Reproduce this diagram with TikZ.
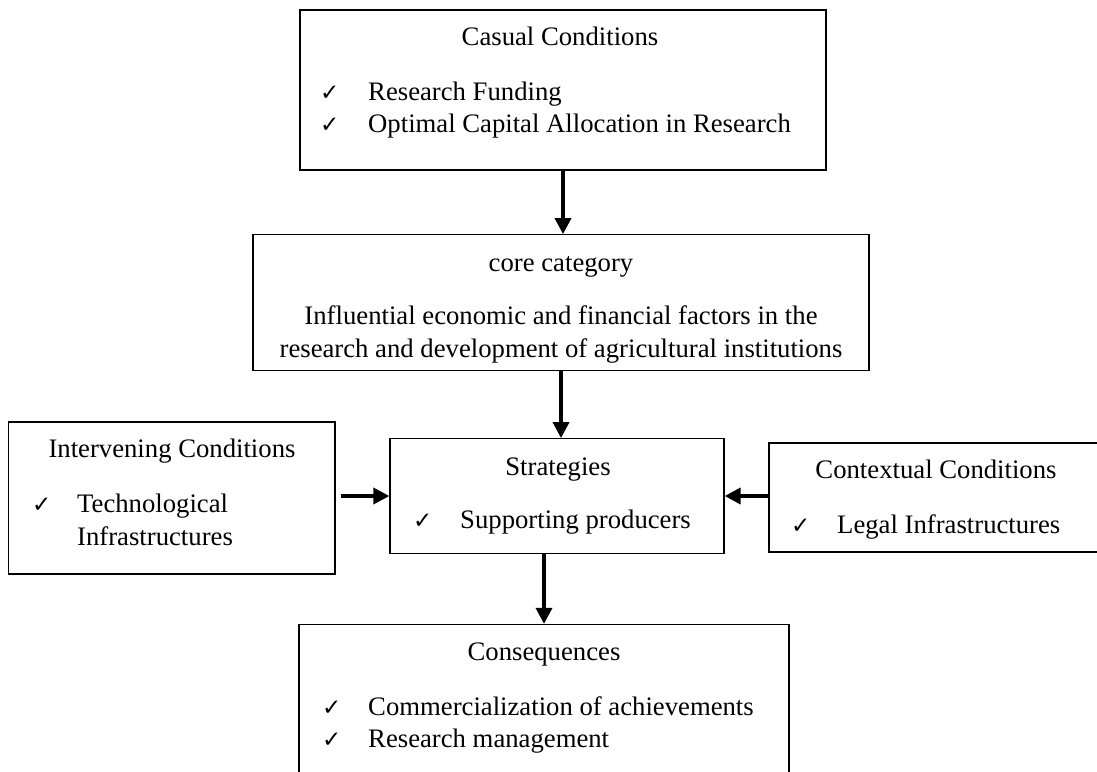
\documentclass[tikz,border=0pt]{standalone}
\usepackage{fontspec}
\setmainfont{Liberation Serif}
\newfontfamily\chkfont{DejaVu Sans}
\usetikzlibrary{arrows.meta}
\newcommand{\chk}[1]{\makebox[#1][l]{\chkfont\fontsize{23}{23}\selectfont ✓}}
\tikzstyle{box}=[draw, line width=1.3pt, inner sep=0pt]
\tikzstyle{txt}=[inner sep=0pt, font=\fontsize{26.7}{32}\selectfont]
\tikzstyle{arrow}=[draw, line width=3.5pt, -{Triangle[length=16pt,width=16pt]}]

\begin{document}
\begin{tikzpicture}[x=1pt,y=-1pt]
\useasboundingbox (0,0) rectangle (1097,771);

\node (casual) [box, minimum width=526pt, minimum height=160pt] at (563,90) {};
\node (core) [box, minimum width=616pt, minimum height=135.5pt] at (561,302.5) {};
\node (strat) [box, minimum width=334pt, minimum height=114.5pt] at (557,496) {};
\node (interv) [box, minimum width=326.6pt, minimum height=152pt] at (171.7,498) {};
\node (context) [box, minimum width=340pt, minimum height=109pt] at (939,497.5) {};
\node (cons) [box, minimum width=490pt, minimum height=170pt] at (544,709.5) {};

% casual conditions
\node (casualtitle) [txt, anchor=base] at (560,45) {Casual Conditions};
\node (funding) [txt, anchor=base west] at (320,100) {\chk{48pt}Research Funding};
\node (allocation) [txt, anchor=base west] at (320,132) {\chk{48pt}Optimal Capital Allocation in Research};

% core category
\node (coretitle) [txt, anchor=base] at (561,271) {core category};
\node (coreone) [txt, anchor=base] at (561,324) {Influential economic and financial factors in the};
\node (coretwo) [txt, anchor=base] at (561,357) {research and development of agricultural institutions};

% intervening conditions
\node (intervtitle) [txt, anchor=base] at (172,457) {Intervening Conditions};
\node (techone) [txt, anchor=base west] at (32,512) {\chk{45pt}Technological};
\node (techtwo) [txt, anchor=base west] at (77,545) {Infrastructures};

% strategies
\node (strattitle) [txt, anchor=base] at (558,475) {Strategies};
\node (support) [txt, anchor=base west] at (413,528) {\chk{47pt}Supporting producers};

% contextual conditions
\node (contexttitle) [txt, anchor=base] at (936,478) {Contextual Conditions};
\node (legal) [txt, anchor=base west] at (791,533) {\chk{46pt}Legal Infrastructures};

% consequences
\node (constitle) [txt, anchor=base] at (544,660) {Consequences};
\node (commerce) [txt, anchor=base west] at (322,715) {\chk{46pt}Commercialization of achievements};
\node (management) [txt, anchor=base west] at (322,747) {\chk{46pt}Research management};

\draw [arrow] (casual.south) -- (casual.south |- core.north);
\draw [arrow] (core.south) -- (core.south |- strat.north);
\draw [arrow] (strat.south -| cons.north) -- (cons.north);
\draw [arrow, shorten <=5pt] (interv.east |- strat.west) -- (strat.west);
\draw [arrow] (context.west |- strat.east) -- (strat.east);

\end{tikzpicture}
\end{document}
